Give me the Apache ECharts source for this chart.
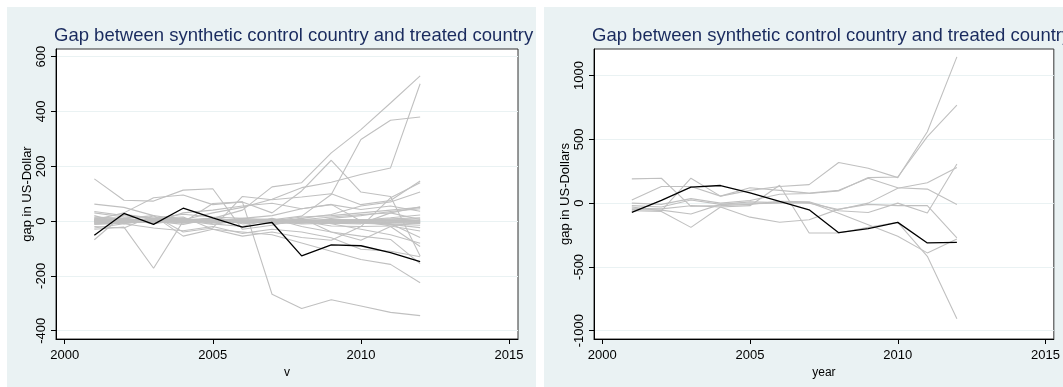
<!DOCTYPE html>
<html>
<head>
<meta charset="utf-8">
<script src="https://cdn.jsdelivr.net/npm/echarts/dist/echarts.min.js"></script>
<style>
  html, body { margin: 0; padding: 0; background: #ffffff; }
  #chart { width: 1063px; height: 387px; }
</style>
</head>
<body>
<div id="chart"></div>
<script>
// Years on the horizontal axis
const years = [2001, 2002, 2003, 2004, 2005, 2006, 2007, 2008, 2009, 2010, 2011, 2012];

// Tick labels
const xTicks = [2000, 2005, 2010, 2015];
const leftYTicks = [-400, -200, 0, 200, 400, 600];
const rightYTicks = [-1000, -500, 0, 500, 1000];

// Left panel: treated country gap (black) and placebo gaps (grey)
const leftTreated = [-52, 28, -12, 47, 12, -22, -5, -127, -87, -90, -115, -148];
const leftPlacebos = [
  [8, 5, 0, -12, 10, 40, 125, 140, 249, 334, 431, 530],
  [-10, -5, 5, 10, -5, 0, 5, 18, 97, 298, 368, 380],
  [15, 10, 20, 5, 30, 50, 80, 122, 142, 170, 194, 501],
  [5, 30, 85, 95, 60, 70, 30, 110, 222, 106, 90, -127],
  [154, 76, 73, 113, 118, -30, -15, 10, -40, -70, -20, -93],
  [35, 20, 10, -5, 64, 70, -267, -319, -287, -310, -333, -345],
  [-30, -22, -172, 0, 10, -10, 0, 15, 20, 30, 40, 50],
  [62, 50, 20, -40, -25, 90, 78, 88, 100, 60, 75, 146],
  [-68, 25, 10, 15, -30, -55, -40, -60, -70, -20, 85, 140],
  [0, 0, -5, 30, 40, 55, 65, 45, 60, 42, 55, 36],
  [-20, -25, 20, -55, -30, -40, -50, -80, -110, -140, -158, -225],
  [20, -10, 5, 10, -10, -20, 10, -20, -40, -55, -67, -155],
  [5, -5, 10, 5, 0, -5, 0, 5, 15, 24, 30, 52],
  [-5, 5, -5, 0, 5, 5, -10, -5, 6, 0, -18, -36],
  [0, 10, 0, -5, 0, 10, 5, 0, -18, -20, -18, -4],
  [10, 0, 5, 5, 10, 0, -5, 10, 24, 55, 70, 106],
  [-10, 10, -10, 5, -5, -5, 0, -10, -8, -10, 30, 6],
  [3, -3, 8, -8, 2, 5, -3, 2, 5, 5, 5, 0],
  [-3, 3, -8, 8, -2, -5, 3, -2, -5, -5, -10, -15],
  [12, 8, -2, 2, -12, 3, 8, -8, 10, 20, 35, 45],
  [-12, -8, 2, -2, 12, -3, -8, 8, -10, -30, -50, -81],
  [2, 2, 2, -2, -2, 2, 2, 2, 2, 2, 0, 2],
  [-25, -10, -25, -35, -20, -45, -30, -40, -61, -103, -110, -130],
  [30, 15, 10, 25, 15, 10, 20, 45, 61, 0, -10, -60],
  [0, 1, -1, 0, 1, 0, -1, 0, 2, 4, 8, 12],
  [1, -1, 0, 1, -1, 1, 0, -1, -2, -4, -6, -9],
  [-2, 0, 1, -1, 0, -1, 1, 1, 0, 3, 12, 22],
  [2, -2, -1, 2, 1, 0, 0, -2, -3, -8, -12, -24],
  [-4, 4, 3, -3, -3, 3, 3, 3, 4, 6, 2, -6],
  [4, -4, -3, 3, 3, -3, -3, -3, -1, 1, 4, 8],
  [0, 0, 0, 0, 0, 0, 0, 0, 1, -2, -3, -3],
  [-6, -3, 2, 4, -2, -4, 2, 5, 3, -1, -4, -2],
  [6, 3, -2, -4, 2, 4, -2, -5, -3, 1, 3, 2],
  [-8, -6, -4, -2, 0, 2, 4, 2, 0, -2, -5, -8]
];

// Right panel: treated country gap (black) and placebo gaps (grey)
const rightTreated = [-73, 21, 125, 138, 80, 13, -52, -232, -200, -151, -312, -307];
const rightPlacebos = [
  [190, 195, -25, -20, -10, 15, 10, -60, -73, 0, -78, 307],
  [25, 130, 130, 55, 100, 130, 145, 318, 273, 200, 560, 1146],
  [-30, -60, 195, 55, 120, 100, 78, 100, 195, 120, 110, -10],
  [0, -10, 35, 0, 20, 70, 75, 95, 200, 205, 521, 768],
  [-50, -55, -85, -10, 10, 5, 0, -50, 0, 117, 160, 280],
  [-60, -65, -190, -30, -20, 140, -234, -234, -190, -151, -417, -906],
  [-20, -30, 25, -10, -5, 0, 5, -80, -169, -260, -390, -281],
  [-40, -45, -20, -30, -110, -150, -130, -47, -10, -20, -20, -273]
];

const titleText = 'Gap between synthetic control country and treated country';
const FONT = "'Liberation Sans', Arial, sans-serif";
const BG = '#eaf2f3';
const GREY = '#c0c0c0';

function pairs(vals) {
  return years.map((y, i) => [y, vals[i]]);
}

const plainNumber = v => String(v);

function xAxisFor(gridIndex, name, min, max) {
  return {
    type: 'value', gridIndex, min, max, name,
    nameLocation: 'middle', nameGap: 22,
    nameTextStyle: { fontFamily: FONT, fontSize: 12, color: '#000' },
    axisLine: { show: true, onZero: false, lineStyle: { color: '#000', width: 1 } },
    axisTick: { show: true, inside: false, length: 5, customValues: xTicks, lineStyle: { color: '#000' } },
    axisLabel: { customValues: xTicks, formatter: plainNumber, margin: 10, fontFamily: FONT, fontSize: 13, color: '#000' },
    splitLine: { show: false }
  };
}

function yAxisFor(gridIndex, name, min, max, ticks) {
  return {
    type: 'value', gridIndex, min, max, name,
    nameLocation: 'middle', nameGap: 20, nameRotate: 90,
    nameTextStyle: { fontFamily: FONT, fontSize: 13, color: '#000' },
    axisLine: { show: true, onZero: false, lineStyle: { color: '#000', width: 1 } },
    axisTick: { show: true, inside: false, length: 5, customValues: ticks, lineStyle: { color: '#000' } },
    axisLabel: { customValues: ticks, formatter: plainNumber, rotate: 90, margin: 8, fontFamily: FONT, fontSize: 13, color: '#000' },
    splitLine: { show: true, lineStyle: { color: BG, width: 1 } }
  };
}

const series = [];
leftPlacebos.forEach(p => series.push({
  type: 'line', xAxisIndex: 0, yAxisIndex: 0, data: pairs(p),
  showSymbol: false, lineStyle: { color: GREY, width: 1.1 }, z: 2, silent: true
}));
series.push({
  type: 'line', xAxisIndex: 0, yAxisIndex: 0, data: pairs(leftTreated),
  showSymbol: false, lineStyle: { color: '#000', width: 1.3 }, z: 3, silent: true
});
rightPlacebos.forEach(p => series.push({
  type: 'line', xAxisIndex: 1, yAxisIndex: 1, data: pairs(p),
  showSymbol: false, lineStyle: { color: GREY, width: 1.1 }, z: 2, silent: true
}));
series.push({
  type: 'line', xAxisIndex: 1, yAxisIndex: 1, data: pairs(rightTreated),
  showSymbol: false, lineStyle: { color: '#000', width: 1.3 }, z: 3, silent: true
});

const chart = echarts.init(document.getElementById('chart'), null, { renderer: 'canvas' });
chart.setOption({
  animation: false,
  backgroundColor: '#ffffff',
  graphic: [
    { type: 'rect', shape: { x: 7, y: 7, width: 529, height: 380 }, style: { fill: BG }, z: -10, silent: true },
    { type: 'rect', shape: { x: 544, y: 7, width: 519, height: 380 }, style: { fill: BG }, z: -10, silent: true }
  ],
  title: [
    { text: titleText, left: 49, top: 21, textStyle: { fontFamily: FONT, fontSize: 18.5, fontWeight: 'normal', color: '#1a2b5e' } },
    { text: titleText, left: 587, top: 21, textStyle: { fontFamily: FONT, fontSize: 18.5, fontWeight: 'normal', color: '#1a2b5e' } }
  ],
  grid: [
    { left: 56, top: 49, width: 462, height: 290, show: true, backgroundColor: '#ffffff', borderColor: '#333', borderWidth: 1 },
    { left: 594, top: 49, width: 461.5, height: 290, show: true, backgroundColor: '#ffffff', borderColor: '#333', borderWidth: 1 }
  ],
  xAxis: [
    xAxisFor(0, 'v', 1999.706, 2015.304),
    xAxisFor(1, 'year', 1999.72, 2015.28)
  ],
  yAxis: [
    yAxisFor(0, 'gap in US-Dollar', -430.3, 628, leftYTicks),
    yAxisFor(1, 'gap in US-Dollars', -1065, 1208, rightYTicks)
  ],
  series
});
</script>
</body>
</html>
